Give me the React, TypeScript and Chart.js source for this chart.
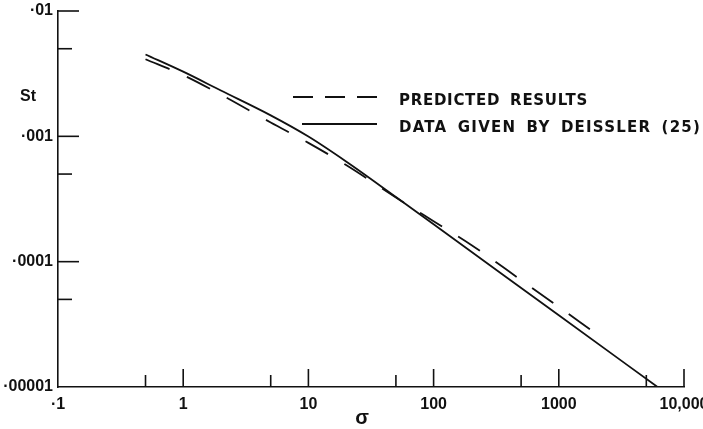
import React, { useEffect, useRef } from 'react';
import { Chart, registerables } from 'chart.js';

Chart.register(...registerables);

// ---- axis ticks ----
const xMajorTicks = [0.1, 1, 10, 100, 1000, 10000];
const xTickLabels = ['·1', '1', '10', '100', '1000', '10,000'];
const xMinorTicks = [0.5, 5, 50, 500, 5000];
const yMajorTicks = [0.00001, 0.0001, 0.001, 0.01];
const yTickLabels = ['·00001', '·0001', '·001', '·01'];
const yMinorTicks = [0.00005, 0.0005, 0.005];

// ---- series ----
const predictedX = [0.5, 1, 2, 5, 10, 20, 50, 100, 200, 500, 1000, 1815];
const predictedY = [0.00412, 0.00308, 0.00215, 0.00129, 0.000887, 0.00059, 0.000325, 0.00021, 0.000136, 0.0000713, 0.0000435, 0.0000284];
const deisslerX = [0.5, 1, 2, 5, 10, 20, 50, 100, 1000, 6150];
const deisslerY = [0.0045, 0.00328, 0.00232, 0.00147, 0.000996, 0.00063, 0.000328, 0.000199, 0.0000373, 0.00001];

const seriesNames = ['PREDICTED RESULTS', 'DATA GIVEN BY DEISSLER (25)'];
const xAxisTitle = 'σ';
const yAxisTitle = 'St';

const INK = '#111';
const labelFont = '"Liberation Sans", Arial, sans-serif';

const decorPlugin = {
  id: 'decor',
  afterDraw(chart: any) {
    const ctx = chart.ctx as CanvasRenderingContext2D;
    const xs = chart.scales.x;
    const ys = chart.scales.y;
    const { left, bottom } = chart.chartArea;
    ctx.save();
    ctx.strokeStyle = INK;
    ctx.lineWidth = 1.6;
    // inward tick marks on x axis
    const xTick = (v: number, len: number) => {
      const px = xs.getPixelForValue(v);
      ctx.beginPath();
      ctx.moveTo(px, bottom);
      ctx.lineTo(px, bottom - len);
      ctx.stroke();
    };
    xMajorTicks.forEach((v, i) => { if (i > 0) xTick(v, 18); });
    xMinorTicks.forEach((v) => xTick(v, 12));
    // inward tick marks on y axis
    const yTick = (v: number, len: number) => {
      const py = ys.getPixelForValue(v);
      ctx.beginPath();
      ctx.moveTo(left, py);
      ctx.lineTo(left + len, py);
      ctx.stroke();
    };
    yMajorTicks.forEach((v, i) => { if (i > 0) yTick(v, 21); });
    yMinorTicks.forEach((v) => yTick(v, 14));

    // axis titles
    ctx.fillStyle = INK;
    ctx.textBaseline = 'middle';
    ctx.textAlign = 'center';
    ctx.font = `bold 20px ${labelFont}`;
    ctx.fillText(xAxisTitle, 362, 418);
    ctx.textAlign = 'left';
    ctx.font = `bold 16px ${labelFont}`;
    ctx.fillText(yAxisTitle, 20, 97);

    // legend samples
    ctx.lineWidth = 1.8;
    ctx.setLineDash([20, 12]);
    ctx.beginPath();
    ctx.moveTo(293, 97);
    ctx.lineTo(377, 97);
    ctx.stroke();
    ctx.setLineDash([]);
    ctx.beginPath();
    ctx.moveTo(302, 124);
    ctx.lineTo(377, 124);
    ctx.stroke();

    // legend text
    const drawSpaced = (text: string, x: number, y: number, target: number) => {
      ctx.font = 'bold 15px "DejaVu Sans", sans-serif';
      const c = ctx as any;
      c.letterSpacing = '0px';
      c.wordSpacing = '4px';
      const w = ctx.measureText(text).width;
      const s = Math.max(0, (target - w) / text.length);
      c.letterSpacing = `${s}px`;
      ctx.textAlign = 'left';
      ctx.textBaseline = 'middle';
      ctx.fillText(text, x, y);
      c.letterSpacing = '0px';
      c.wordSpacing = '0px';
    };
    drawSpaced(seriesNames[0], 399, 101, 189);
    drawSpaced(seriesNames[1], 399, 128, 302);
    ctx.restore();
  },
};

export default function App() {
  const ref = useRef<HTMLCanvasElement | null>(null);
  useEffect(() => {
    if (!ref.current) return;
    const chart = new Chart(ref.current, {
      type: 'line',
      data: {
        datasets: [
          {
            label: seriesNames[0],
            data: predictedX.map((x, i) => ({ x, y: predictedY[i] })),
            borderColor: INK,
            borderWidth: 1.8,
            borderDash: [26, 19],
            pointRadius: 0,
            fill: false,
            cubicInterpolationMode: 'monotone',
          },
          {
            label: seriesNames[1],
            data: deisslerX.map((x, i) => ({ x, y: deisslerY[i] })),
            borderColor: INK,
            borderWidth: 1.8,
            pointRadius: 0,
            fill: false,
            cubicInterpolationMode: 'monotone',
          },
        ],
      },
      options: {
        responsive: false,
        animation: false,
        layout: { padding: { top: 11, right: 19, bottom: 0, left: 0 } },
        plugins: { legend: { display: false }, tooltip: { enabled: false } },
        scales: {
          x: {
            type: 'logarithmic',
            position: 'bottom',
            min: 0.1,
            max: 10000,
            grid: { display: false, drawTicks: false },
            border: { display: true, color: INK, width: 1.6 },
            ticks: {
              autoSkip: false,
              maxRotation: 0,
              minRotation: 0,
              padding: 8,
              color: INK,
              font: { family: labelFont, size: 16, weight: 'bold' },
              callback: (_v: any, i: number) => xTickLabels[i],
            },
            afterBuildTicks: (s: any) => {
              s.ticks = xMajorTicks.map((v) => ({ value: v }));
            },
            afterFit: (s: any) => {
              s.height = 42;
              s.paddingLeft = 0;
              s.paddingRight = 0;
            },
          },
          y: {
            type: 'logarithmic',
            position: 'left',
            min: 0.00001,
            max: 0.01,
            grid: { display: false, drawTicks: false },
            border: { display: true, color: INK, width: 1.6 },
            ticks: {
              autoSkip: false,
              padding: 5,
              color: INK,
              font: { family: labelFont, size: 16, weight: 'bold' },
              callback: (_v: any, i: number) => yTickLabels[i],
            },
            afterBuildTicks: (s: any) => {
              s.ticks = yMajorTicks.map((v) => ({ value: v }));
            },
            afterFit: (s: any) => {
              s.width = 58;
              s.paddingTop = 0;
              s.paddingBottom = 0;
            },
          },
        },
      } as any,
      plugins: [decorPlugin],
    });
    return () => chart.destroy();
  }, []);
  return (
    <div style={{ position: 'absolute', left: 0, top: 0, width: 703, height: 429, background: '#fff' }}>
      <canvas ref={ref} width={703} height={429} style={{ display: 'block' }} />
    </div>
  );
}
